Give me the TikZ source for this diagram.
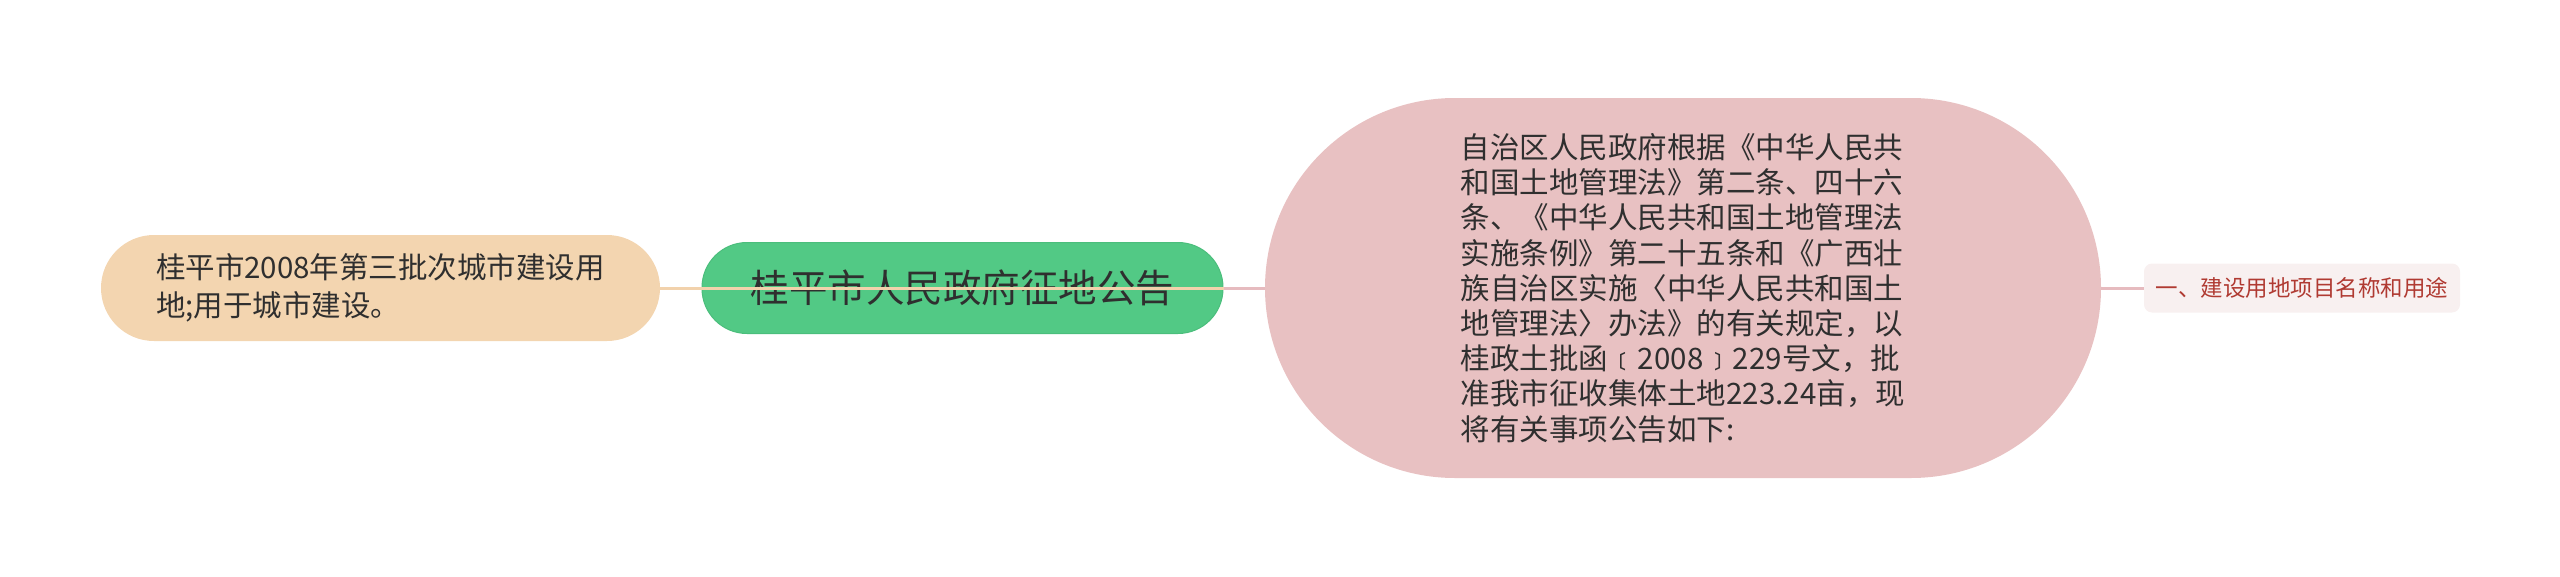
\documentclass[tikz,border=0pt]{standalone}
\usepackage{fontspec}
\setmainfont{Noto Sans CJK SC}
\definecolor{tanc}{HTML}{F3D5B0}
\definecolor{tanline}{HTML}{F2D2AC}
\definecolor{greenc}{HTML}{52C985}
\definecolor{greenedge}{HTML}{4BBE7C}
\definecolor{pinkc}{HTML}{E8C1C2}
\definecolor{pinkline}{HTML}{E6BBBF}
\definecolor{smallfill}{HTML}{F8F0F0}
\definecolor{smalltext}{HTML}{B03A32}
\definecolor{txt}{HTML}{2F2F2F}
\begin{document}
\begin{tikzpicture}[x=1pt,y=-1pt]
\useasboundingbox (0,0) rectangle (2560,576);
\tikzset{
  base/.style={inner sep=0pt, align=left, text=txt},
  tanbox/.style={base, fill=tanc, rounded corners=53pt, minimum width=559pt, minimum height=106pt, font=\fontsize{29.5}{37.5}\selectfont},
  greenbox/.style={base, fill=greenc, draw=greenedge, line width=1pt, rounded corners=45pt, minimum width=521pt, minimum height=91pt, font=\fontsize{38.5}{46}\selectfont},
  pinkbox/.style={base, fill=pinkc, rounded corners=190pt, minimum width=836pt, minimum height=380pt, font=\fontsize{29.5}{35.2}\selectfont},
  smallbox/.style={base, fill=smallfill, text=smalltext, rounded corners=8pt, minimum width=316pt, minimum height=49pt, font=\fontsize{22.5}{27}\selectfont},
  tanlink/.style={draw=tanline, line width=3pt},
  pinklink/.style={draw=pinkline, line width=3pt}
}
\node[tanbox] (tan) at (380.5,288) {桂平市2008年第三批次城市建设用\\地;用于城市建设。};
\node[greenbox] (root) at (962.5,288) {桂平市人民政府征地公告};
\node[pinkbox] (pink) at (1683,288) {自治区人民政府根据《中华人民共\\和国土地管理法》第二条、四十六\\条、《中华人民共和国土地管理法\\实施条例》第二十五条和《广西壮\\族自治区实施〈中华人民共和国土\\地管理法〉办法》的有关规定，以\\桂政土批函﹝2008﹞229号文，批\\准我市征收集体土地223.24亩，现\\将有关事项公告如下:};
\node[smallbox] (small) at (2302,288) {一、建设用地项目名称和用途};
\draw[pinklink] (root.east) -- (pink.west);
\draw[tanlink] (tan.east) -- (root.east);
\draw[pinklink] (pink.east) -- (small.west);
\end{tikzpicture}
\end{document}
